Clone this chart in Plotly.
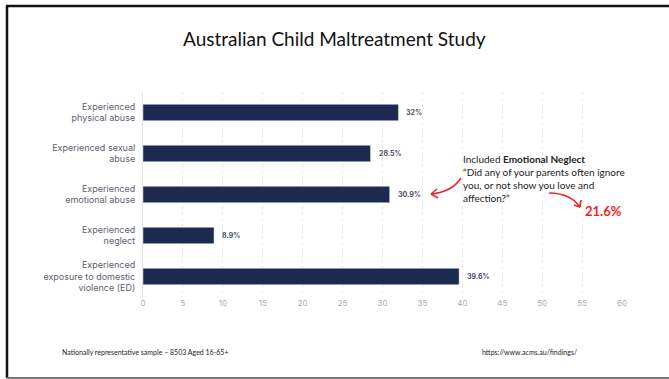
import plotly.graph_objects as go

categories = [
    "Experienced<br>physical abuse",
    "Experienced sexual<br>abuse",
    "Experienced<br>emotional abuse",
    "Experienced<br>neglect",
    "Experienced<br>exposure to domestic<br>violence (ED)",
]
values = [32, 28.5, 30.9, 8.9, 39.6]
value_labels = [f"<b>{v:g}%</b>" for v in values]
tick_vals = list(range(0, 61, 5))

W, H = 669, 379
L, R, T, B = 143, 622, 92, 297


def px(x):
    return (x - L) / (R - L)


def py(y):
    return (B - y) / (B - T)


fig = go.Figure()
fig.add_trace(go.Bar(
    y=categories, x=values, orientation="h",
    marker=dict(color="#1b2a4e"), width=0.4,
    hoverinfo="skip",
))

shapes = []
# slide frame
shapes.append(dict(type="line", xref="paper", yref="paper", x0=px(7), x1=px(7), y0=py(6), y1=py(378),
                   line=dict(color="#111", width=2.5)))
shapes.append(dict(type="line", xref="paper", yref="paper", x0=px(6), x1=px(669), y0=py(6), y1=py(6),
                   line=dict(color="#111", width=2.5)))
shapes.append(dict(type="line", xref="paper", yref="paper", x0=px(7), x1=px(669), y0=py(378), y1=py(378),
                   line=dict(color="#777", width=2)))


def curve(p0, c, p1, head):
    path = f"M {px(p0[0])},{py(p0[1])} Q {px(c[0])},{py(c[1])} {px(p1[0])},{py(p1[1])}"
    shapes.append(dict(type="path", xref="paper", yref="paper", path=path,
                       line=dict(color="#e8262b", width=1.6)))
    for h in head:
        shapes.append(dict(type="line", xref="paper", yref="paper",
                           x0=px(p1[0]), y0=py(p1[1]), x1=px(h[0]), y1=py(h[1]),
                           line=dict(color="#e8262b", width=1.6)))


curve((461, 178), (452, 192), (431, 194), [(437, 189), (438, 198)])
curve((549, 193), (570, 193), (580, 207), [(574, 205), (581, 200)])

annotations = [
    dict(text="Australian Child Maltreatment Study", xref="paper", yref="paper",
         x=px(334), y=py(38), showarrow=False, xanchor="center", yanchor="middle",
         font=dict(family="Lato", size=19, color="#111")),
    dict(text="Included <b>Emotional Neglect</b><br>“Did any of your parents often ignore<br>you, or not show you love and<br>affection?”",
         xref="paper", yref="paper", x=px(461), y=py(151), showarrow=False,
         xanchor="left", yanchor="top", align="left",
         font=dict(family="Lato", size=10, color="#222")),
    dict(text="<b>21.6%</b>", xref="paper", yref="paper", x=px(583), y=py(211),
         showarrow=False, xanchor="left", yanchor="middle",
         font=dict(family="Lato", size=13, color="#ff1a1a")),
    dict(text="Nationally representative sample – 8503 Aged 16-65+", xref="paper", yref="paper",
         x=px(60), y=py(352), showarrow=False, xanchor="left", yanchor="middle",
         font=dict(family="Lato", size=7, color="#222")),
    dict(text="https://www.acms.au/findings/", xref="paper", yref="paper",
         x=px(480), y=py(352), showarrow=False, xanchor="left", yanchor="middle",
         font=dict(family="Lato", size=7, color="#222")),
]
for cat, v, lab in zip(categories, values, value_labels):
    annotations.append(dict(text=lab, x=v, y=cat, xref="x", yref="y", showarrow=False,
                            xanchor="left", yanchor="middle", xshift=6,
                            font=dict(family="Inter", size=7, color="#4a5068")))

fig.update_layout(
    width=W, height=H, margin=dict(l=L, r=W - R, t=T, b=H - B),
    paper_bgcolor="white", plot_bgcolor="white", showlegend=False,
    shapes=shapes, annotations=annotations,
    xaxis=dict(range=[0, 60], tickvals=tick_vals, showgrid=True, gridcolor="#e6e6e6",
               griddash="dot", gridwidth=1, zeroline=False, showline=False,
               tickfont=dict(family="Inter", size=8, color="#ababab"), ticks="", fixedrange=True),
    yaxis=dict(autorange="reversed", showgrid=False, showline=True, linecolor="#e3e3e3",
               linewidth=1, ticks="", ticklabelstandoff=5,
               tickfont=dict(family="Inter", size=9, color="#5e6270")),
)

fig.write_html("out.html")
